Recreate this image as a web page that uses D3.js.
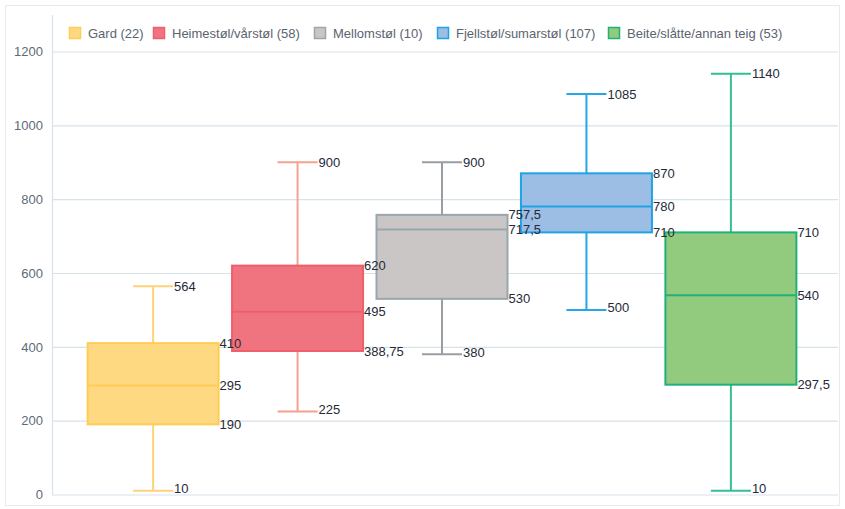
<!DOCTYPE html>
<html><head><meta charset="utf-8">
<script src="https://cdn.jsdelivr.net/npm/d3@7"></script>
<style>body{margin:0;background:#fff}svg{display:block}</style>
</head><body>
<svg id="c" width="845" height="509"></svg>
<script>
const categories = ["Gard (22)","Heimestøl/vårstøl (58)","Mellomstøl (10)","Fjellstøl/sumarstøl (107)","Beite/slåtte/annan teig (53)"];
const minVals    = [10, 225, 380, 500, 10];
const q1Vals     = [190, 388.75, 530, 710, 297.5];
const medianVals = [295, 495, 717.5, 780, 540];
const q3Vals     = [410, 620, 757.5, 870, 710];
const maxVals    = [564, 900, 900, 1085, 1140];
const yTicks     = [0, 200, 400, 600, 800, 1000, 1200];
const fills   = ["#FFD982","#F07480","#C9C6C5","#9CBDE4","#93CB7E"];
const strokes = ["#FFCC55","#EE5F6B","#9AA6AD","#1FA3E6","#20B07A"];
const whisk   = ["#FFD27A","#F5A090","#9A9EA2","#25A6E6","#35BE96"];

const svg = d3.select("#c");
const fmt = v => String(v).replace(".", ",");
const y = d3.scaleLinear().domain([0,1200]).range([494.5,51.5]);
const x = d3.scalePoint().domain(categories).range([52,832]).padding(0.7);
const boxW = 131, capW = 40;

svg.append("rect").attr("x",5.5).attr("y",5.5).attr("width",834).attr("height",500)
  .attr("fill","none").attr("stroke","#e6ebef");

const yAxis = d3.axisLeft(y).tickValues(yTicks).tickSize(-786).tickFormat(d=>d);
const g = svg.append("g").attr("transform","translate(52,0)").call(yAxis);
g.select(".domain").remove();
g.selectAll(".tick line").attr("stroke","#d8e2e9").attr("stroke-width",1.2);
g.selectAll(".tick text").attr("x",-9).attr("fill","#5e6b76")
  .style("font-family","'Liberation Sans',Arial,sans-serif").style("font-size","13px");
svg.append("line").attr("x1",52.5).attr("x2",52.5).attr("y1",15).attr("y2",494.5)
  .attr("stroke","#d8e2e9").attr("stroke-width",1.2);

const data = categories.map((c,i)=>({c,i,min:minVals[i],q1:q1Vals[i],med:medianVals[i],q3:q3Vals[i],max:maxVals[i]}));
const gb = svg.append("g");
const gl = svg.append("g");
const lab = (t,xx,yy)=>gl.append("text").attr("x",xx).attr("y",yy).attr("dy","0.35em").text(t)
  .attr("fill","#262a38").style("font-family","'Liberation Sans',Arial,sans-serif").style("font-size","13px");

data.forEach(d=>{
  const cx = x(d.c), i=d.i;
  gb.append("line").attr("x1",cx).attr("x2",cx).attr("y1",y(d.max)).attr("y2",y(d.q3)).attr("stroke",whisk[i]).attr("stroke-width",2);
  gb.append("line").attr("x1",cx).attr("x2",cx).attr("y1",y(d.q1)).attr("y2",y(d.min)).attr("stroke",whisk[i]).attr("stroke-width",2);
  gb.append("line").attr("x1",cx-capW/2).attr("x2",cx+capW/2).attr("y1",y(d.max)).attr("y2",y(d.max)).attr("stroke",whisk[i]).attr("stroke-width",2);
  gb.append("line").attr("x1",cx-capW/2).attr("x2",cx+capW/2).attr("y1",y(d.min)).attr("y2",y(d.min)).attr("stroke",whisk[i]).attr("stroke-width",2);
  gb.append("rect").attr("x",cx-boxW/2).attr("y",y(d.q3)).attr("width",boxW).attr("height",y(d.q1)-y(d.q3))
    .attr("fill",fills[i]).attr("stroke",strokes[i]).attr("stroke-width",2);
  gb.append("line").attr("x1",cx-boxW/2).attr("x2",cx+boxW/2).attr("y1",y(d.med)).attr("y2",y(d.med)).attr("stroke",strokes[i]).attr("stroke-width",2);
  lab(fmt(d.max), cx+capW/2+1, y(d.max));
  lab(fmt(d.min), cx+capW/2+1, y(d.min)-2);
  lab(fmt(d.q3), cx+boxW/2+1, y(d.q3));
  lab(fmt(d.med), cx+boxW/2+1, y(d.med));
  lab(fmt(d.q1), cx+boxW/2+1, y(d.q1));
});

const legX = [69,153,314,437,608];
const lg = svg.append("g");
categories.forEach((c,i)=>{
  lg.append("rect").attr("x",legX[i]+0.5).attr("y",27.5).attr("width",11).attr("height",11)
    .attr("fill",fills[i]).attr("stroke",strokes[i]).attr("stroke-width",1.5);
  lg.append("text").attr("x",legX[i]+19).attr("y",33).attr("dy","0.35em").text(c)
    .attr("fill","#5a6470").style("font-family","'Liberation Sans',Arial,sans-serif").style("font-size","13px");
});
</script>
</body></html>
